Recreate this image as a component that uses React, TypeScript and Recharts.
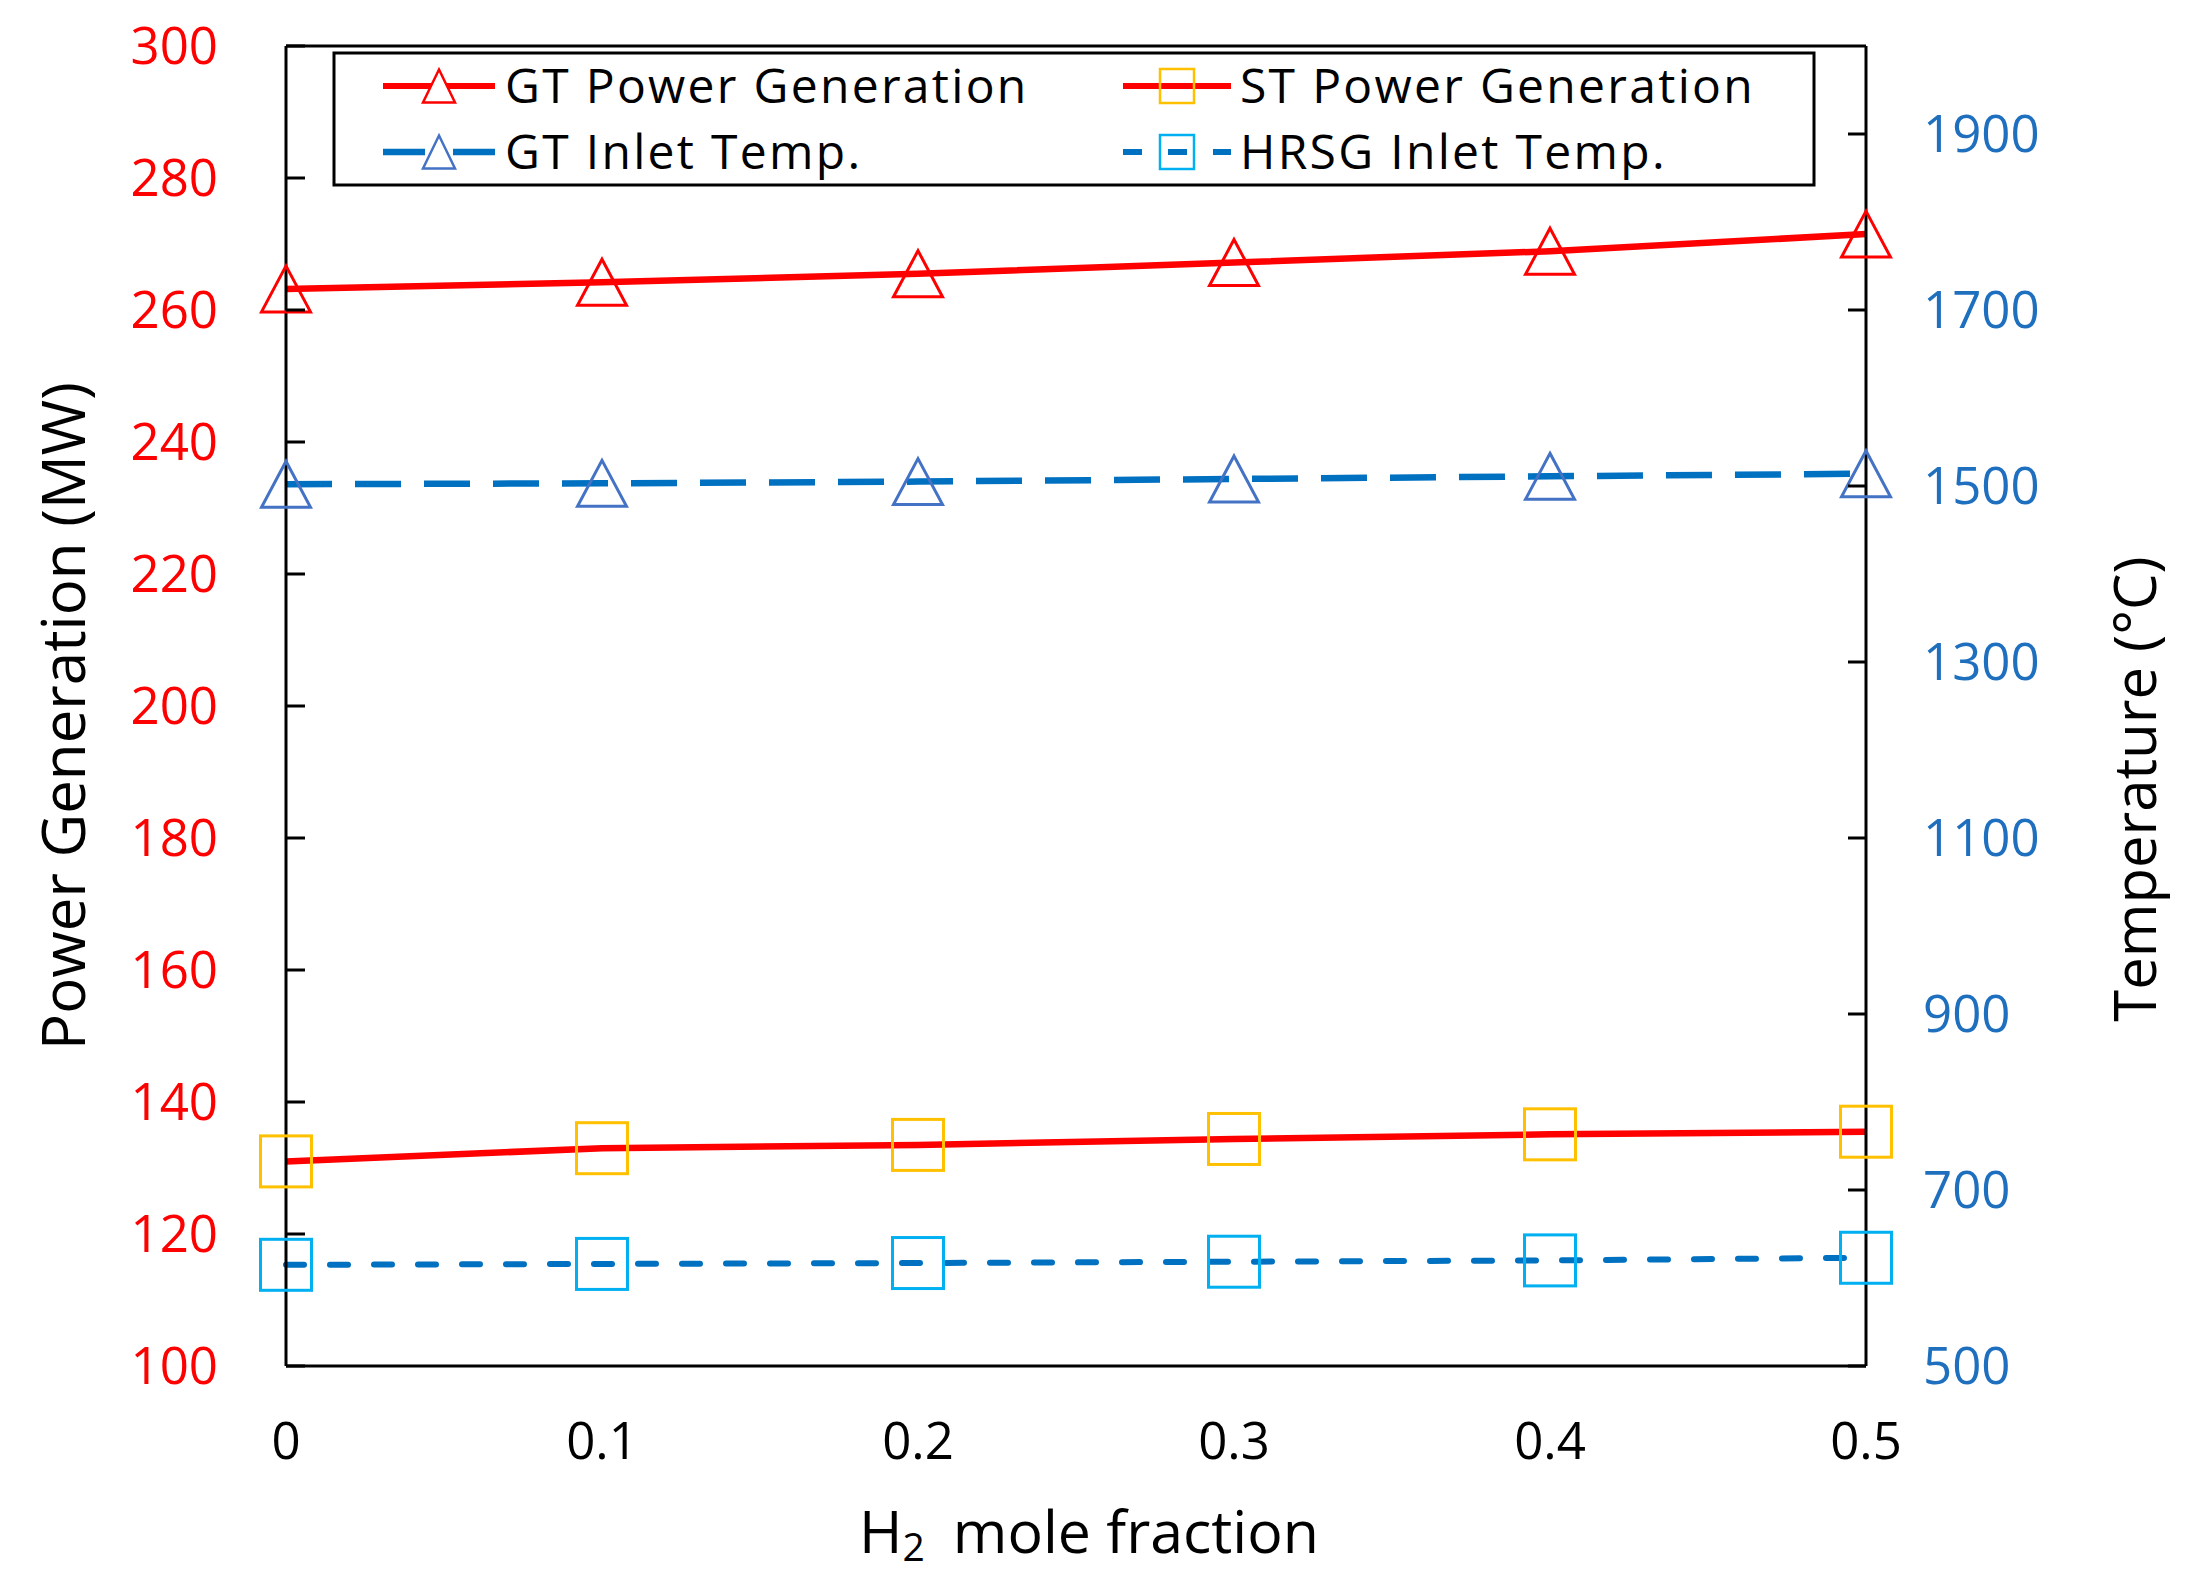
import React from 'react';
import { LineChart, Line, XAxis, YAxis, ReferenceLine } from 'recharts';

const h2Fraction = [0, 0.1, 0.2, 0.3, 0.4, 0.5];
const gtPower = [263.2, 264.2, 265.5, 267.2, 268.9, 271.5];
const stPower = [131.0, 133.0, 133.5, 134.4, 135.1, 135.5];
const gtInletTemp = [1502, 1503, 1505, 1508, 1511, 1514];
const hrsgInletTemp = [615, 616, 617, 618.5, 620, 623];

const xTicks = [0, 0.1, 0.2, 0.3, 0.4, 0.5];
const powerTicks = [100, 120, 140, 160, 180, 200, 220, 240, 260, 280, 300];
const tempTicks = [500, 700, 900, 1100, 1300, 1500, 1700, 1900];

const seriesNames = ['GT Power Generation', 'ST Power Generation', 'GT Inlet Temp.', 'HRSG Inlet Temp.'];

const data = h2Fraction.map((x, i) => ({
  x,
  gtPower: gtPower[i],
  stPower: stPower[i],
  gtInlet: gtInletTemp[i],
  hrsgInlet: hrsgInletTemp[i],
}));

const FONT = 'Open Sans';
const RED = '#FF0000';
const BLUE = '#0070C0';
const TICK_BLUE = '#1F6FBF';
const GOLD = '#FFC000';
const TRI_BLUE = '#4472C4';
const CYAN = '#00B0F0';

const W = 2188;
const H = 1586;

const triPath = (cx: number, cy: number, w: number, h: number) =>
  `M${cx},${cy - h / 2} L${cx + w / 2},${cy + h / 2} L${cx - w / 2},${cy + h / 2} Z`;

const makeTriDot = (color: string, w: number, h: number) => (p: any) =>
  p.cx == null ? <g key={p.index} /> : (
    <path key={p.index} d={triPath(p.cx, p.cy, w, h)} fill="none" stroke={color} strokeWidth={3} />
  );

const makeSqDot = (color: string, s: number) => (p: any) =>
  p.cx == null ? <g key={p.index} /> : (
    <rect key={p.index} x={p.cx - s / 2} y={p.cy - s / 2} width={s} height={s} fill="none" stroke={color} strokeWidth={3} />
  );

const LEFT_MARGIN = 68;
const RIGHT_MARGIN = 57;

const LeftTick = (props: any) => {
  const { x, y, payload } = props;
  const ax = x + LEFT_MARGIN;
  return (
    <g>
      <line x1={ax} x2={ax + 19} y1={y} y2={y} stroke="#000" strokeWidth={3} />
      <text x={x} y={y} dy="0.36em" textAnchor="end" fill={RED} fontSize={51} fontFamily={FONT}>
        {payload.value}
      </text>
    </g>
  );
};

const RightTick = (props: any) => {
  const { x, y, payload } = props;
  const ax = x - RIGHT_MARGIN;
  return (
    <g>
      <line x1={ax - 18} x2={ax} y1={y} y2={y} stroke="#000" strokeWidth={3} />
      <text x={x} y={y} dy="0.36em" textAnchor="start" fill={TICK_BLUE} fontSize={51} fontFamily={FONT}>
        {payload.value}
      </text>
    </g>
  );
};

const LegendOverlay = () => {
  const legendFont = 48;
  const ls = 2.3;
  return (
    <g>
      <rect x={334} y={53} width={1480} height={132} fill="#fff" stroke="#000" strokeWidth={3} />
      {/* Row 1 */}
      <line x1={383} x2={495} y1={86} y2={86} stroke={RED} strokeWidth={6} />
      <path d={triPath(439, 86, 32, 33)} fill="#fff" stroke={RED} strokeWidth={2.5} />
      <text x={505} y={86} dy="0.36em" fontSize={legendFont} fontFamily={FONT} letterSpacing={ls} fill="#000">{seriesNames[0]}</text>
      <line x1={1123} x2={1231} y1={86} y2={86} stroke={RED} strokeWidth={6} />
      <rect x={1160} y={69} width={34} height={34} fill="none" stroke={GOLD} strokeWidth={2.5} />
      <text x={1240} y={86} dy="0.36em" fontSize={legendFont} fontFamily={FONT} letterSpacing={ls} fill="#000">{seriesNames[1]}</text>
      {/* Row 2 */}
      <line x1={383} x2={495} y1={152} y2={152} stroke={BLUE} strokeWidth={6.5} strokeDasharray="42 28" />
      <path d={triPath(439, 152, 32, 33)} fill="none" stroke={TRI_BLUE} strokeWidth={2.5} />
      <text x={505} y={152} dy="0.36em" fontSize={legendFont} fontFamily={FONT} letterSpacing={ls} fill="#000">{seriesNames[2]}</text>
      <line x1={1123} x2={1231} y1={152} y2={152} stroke={BLUE} strokeWidth={6} strokeDasharray="19 26" />
      <rect x={1160} y={135} width={34} height={34} fill="none" stroke={CYAN} strokeWidth={2.5} />
      <text x={1240} y={152} dy="0.36em" fontSize={legendFont} fontFamily={FONT} letterSpacing={ls} fill="#000">{seriesNames[3]}</text>
    </g>
  );
};

const TitlesOverlay = () => (
  <g fontFamily={FONT} fill="#000">
    <text x={63} y={716} transform="rotate(-90 63 716)" textAnchor="middle" dy="0.36em" fontSize={60}>
      Power Generation (MW)
    </text>
    <text x={2135} y={789} transform="rotate(-90 2135 789)" textAnchor="middle" dy="0.36em" fontSize={58}>
      Temperature (°C)
    </text>
    <text x={859} y={1553} fontSize={59}>
      <tspan>H</tspan>
      <tspan dy={8} fontSize={39}>2</tspan>
      <tspan dy={-8} dx={28}>mole fraction</tspan>
    </text>
  </g>
);

export default function App() {
  return (
    <div style={{ position: 'absolute', left: 0, top: 0, width: W, height: H, background: '#fff' }}>
      <LineChart width={W} height={H} data={data} margin={{ top: 46, right: 0, bottom: 0, left: 0 }}>
        <XAxis
          dataKey="x"
          type="number"
          domain={[0, 0.5]}
          ticks={xTicks}
          height={220}
          tickLine={false}
          tickSize={0}
          tickMargin={57}
          axisLine={{ stroke: '#000', strokeWidth: 3 }}
          tick={{ fill: '#000', fontSize: 51, fontFamily: FONT }}
        />
        <YAxis
          yAxisId="left"
          orientation="left"
          type="number"
          domain={[100, 300]}
          ticks={powerTicks}
          width={286}
          tickLine={false}
          tickSize={0}
          tickMargin={LEFT_MARGIN}
          axisLine={{ stroke: '#000', strokeWidth: 3 }}
          tick={(p: any) => <LeftTick {...p} />}
        />
        <YAxis
          yAxisId="right"
          orientation="right"
          type="number"
          domain={[500, 2000]}
          ticks={tempTicks}
          width={322}
          tickLine={false}
          tickSize={0}
          tickMargin={RIGHT_MARGIN}
          axisLine={{ stroke: '#000', strokeWidth: 3 }}
          tick={(p: any) => <RightTick {...p} />}
        />
        <ReferenceLine yAxisId="left" y={300} stroke="#000" strokeWidth={3} />
        <Line
          yAxisId="left"
          dataKey="gtPower"
          name={seriesNames[0]}
          type="linear"
          stroke={RED}
          strokeWidth={6.5}
          dot={makeTriDot(RED, 49, 46)}
          activeDot={false}
          isAnimationActive={false}
        />
        <Line
          yAxisId="left"
          dataKey="stPower"
          name={seriesNames[1]}
          type="linear"
          stroke={RED}
          strokeWidth={6.5}
          dot={makeSqDot(GOLD, 51)}
          activeDot={false}
          isAnimationActive={false}
        />
        <Line
          yAxisId="right"
          dataKey="gtInlet"
          name={seriesNames[2]}
          type="linear"
          stroke={BLUE}
          strokeWidth={6.5}
          strokeDasharray="46 23"
          dot={makeTriDot(TRI_BLUE, 49, 46)}
          activeDot={false}
          isAnimationActive={false}
        />
        <Line
          yAxisId="right"
          dataKey="hrsgInlet"
          name={seriesNames[3]}
          type="linear"
          stroke={BLUE}
          strokeWidth={6}
          strokeDasharray="18 26"
          strokeLinecap="round"
          dot={makeSqDot(CYAN, 51)}
          activeDot={false}
          isAnimationActive={false}
        />
      </LineChart>
      <svg width={W} height={H} style={{ position: 'absolute', left: 0, top: 0, pointerEvents: 'none' }}>
        <LegendOverlay />
        <TitlesOverlay />
      </svg>
    </div>
  );
}
